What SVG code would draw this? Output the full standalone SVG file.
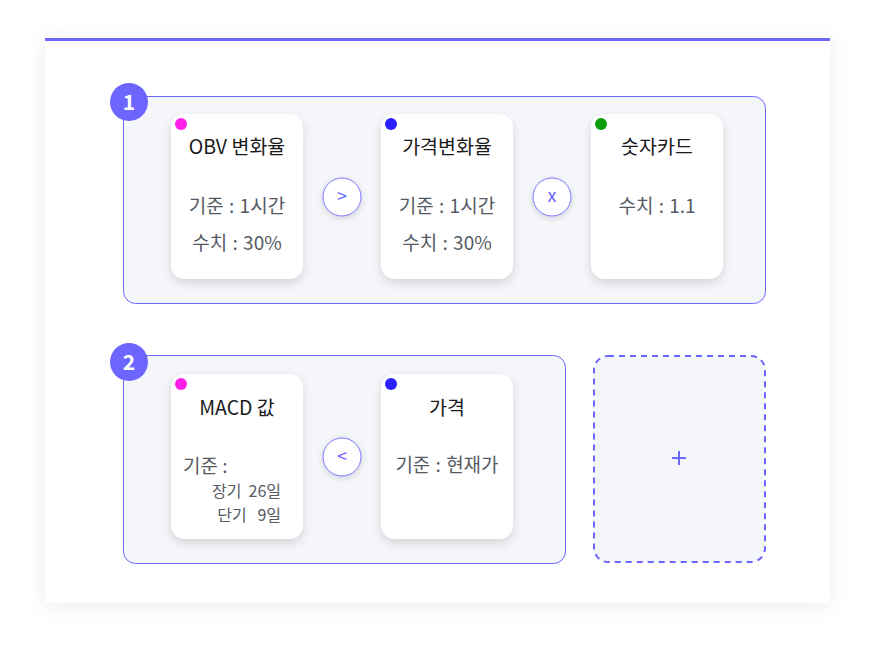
<svg xmlns="http://www.w3.org/2000/svg" width="876" height="652" viewBox="0 0 876 652">
<defs>
<filter id="panelShadow" x="-10%" y="-10%" width="120%" height="120%">
<feDropShadow dx="0" dy="2" stdDeviation="10" flood-color="#000" flood-opacity="0.08"/>
</filter>
<filter id="cardShadow" x="-20%" y="-20%" width="140%" height="150%">
<feDropShadow dx="0" dy="4" stdDeviation="5" flood-color="#000" flood-opacity="0.14"/>
</filter>
<filter id="opShadow" x="-40%" y="-40%" width="180%" height="190%">
<feDropShadow dx="0" dy="2" stdDeviation="3" flood-color="#000" flood-opacity="0.15"/>
</filter>
</defs>
<style>
text{font-family:"Noto Sans CJK KR","Noto Sans",sans-serif;}
.group{fill:#f5f6fa;stroke:#6b66ff;stroke-width:1;}
.card{fill:#ffffff;filter:url(#cardShadow);}
.badge{fill:#6c66ff;}
.badgeText{fill:#fff;font-size:21px;font-weight:700;text-anchor:middle;}
.title{fill:#1a1a1a;font-size:19.5px;text-anchor:middle;}
.body{fill:#555a62;font-size:19px;text-anchor:middle;word-spacing:1px;}
.label{fill:#555a62;font-size:19px;}
.small{fill:#555a62;font-size:16px;}
.op{fill:#fff;stroke:#7b74ff;stroke-width:1;filter:url(#opShadow);}
.opText{fill:#6b66ff;font-size:18px;text-anchor:middle;}
</style>
<rect x="0" y="0" width="876" height="652" fill="#ffffff"/>
<rect x="45" y="38" width="785" height="565" fill="#ffffff" filter="url(#panelShadow)"/>
<rect x="45" y="38" width="785" height="3" fill="#6b66ff"/>

<g id="group1">
<rect class="group" x="123.5" y="96.5" width="642" height="207" rx="12"/>
</g>
<g id="badge1">
<circle class="badge" cx="129" cy="102" r="19"/>
<text class="badgeText" x="129" y="109.5">1</text>
</g>
<g id="card-obv">
<rect class="card" x="171" y="114" width="132" height="165" rx="14"/>
<circle cx="181" cy="124" r="6" fill="#ff1fe9"/>
<text class="title" x="237" y="154">OBV 변화율</text>
<text class="body" x="237" y="213">기준 : 1시간</text>
<text class="body" x="237" y="250">수치 : 30%</text>
</g>
<g id="op-gt">
<circle class="op" cx="342" cy="197" r="19"/>
<text class="opText" x="342" y="203">&gt;</text>
</g>
<g id="card-price-rate">
<rect class="card" x="381" y="114" width="132" height="165" rx="14"/>
<circle cx="391" cy="124" r="6" fill="#2a1fff"/>
<text class="title" x="447" y="154">가격변화율</text>
<text class="body" x="447" y="213">기준 : 1시간</text>
<text class="body" x="447" y="250">수치 : 30%</text>
</g>
<g id="op-x">
<circle class="op" cx="552" cy="197" r="19"/>
<text class="opText" x="552" y="202">x</text>
</g>
<g id="card-number">
<rect class="card" x="591" y="114" width="132" height="165" rx="14"/>
<circle cx="601" cy="124" r="6" fill="#0a9e0a"/>
<text class="title" x="657" y="154">숫자카드</text>
<text class="body" x="657" y="213">수치 : 1.1</text>
</g>

<g id="group2">
<rect class="group" x="123.5" y="355.5" width="442" height="208" rx="12"/>
</g>
<g id="badge2">
<circle class="badge" cx="129" cy="362" r="19"/>
<text class="badgeText" x="129" y="369.5">2</text>
</g>
<g id="card-macd">
<rect class="card" x="171" y="374" width="132" height="165" rx="14"/>
<circle cx="181" cy="384" r="6" fill="#ff1fe9"/>
<text class="title" x="237" y="415">MACD 값</text>
<text class="label" x="183" y="473">기준 :</text>
<text class="small" x="281" y="497" text-anchor="end" xml:space="preserve">장기  26일</text>
<text class="small" x="281" y="521" text-anchor="end" xml:space="preserve">단기   9일</text>
</g>
<g id="op-lt">
<circle class="op" cx="342" cy="457" r="19"/>
<text class="opText" x="342" y="463">&lt;</text>
</g>
<g id="card-price">
<rect class="card" x="381" y="374" width="132" height="165" rx="14"/>
<circle cx="391" cy="384" r="6" fill="#2a1fff"/>
<text class="title" x="447" y="415">가격</text>
<text class="body" x="447" y="472">기준 : 현재가</text>
</g>

<g id="add-card">
<rect x="594" y="356" width="171" height="206" rx="14" fill="#f5f6fa" stroke="#6b66ff" stroke-width="2" stroke-dasharray="6 5"/>
<path d="M672 458 H686 M679 451 V465" stroke="#6b66ff" stroke-width="2" fill="none"/>
</g>
<g id="connectors"></g>
</svg>
